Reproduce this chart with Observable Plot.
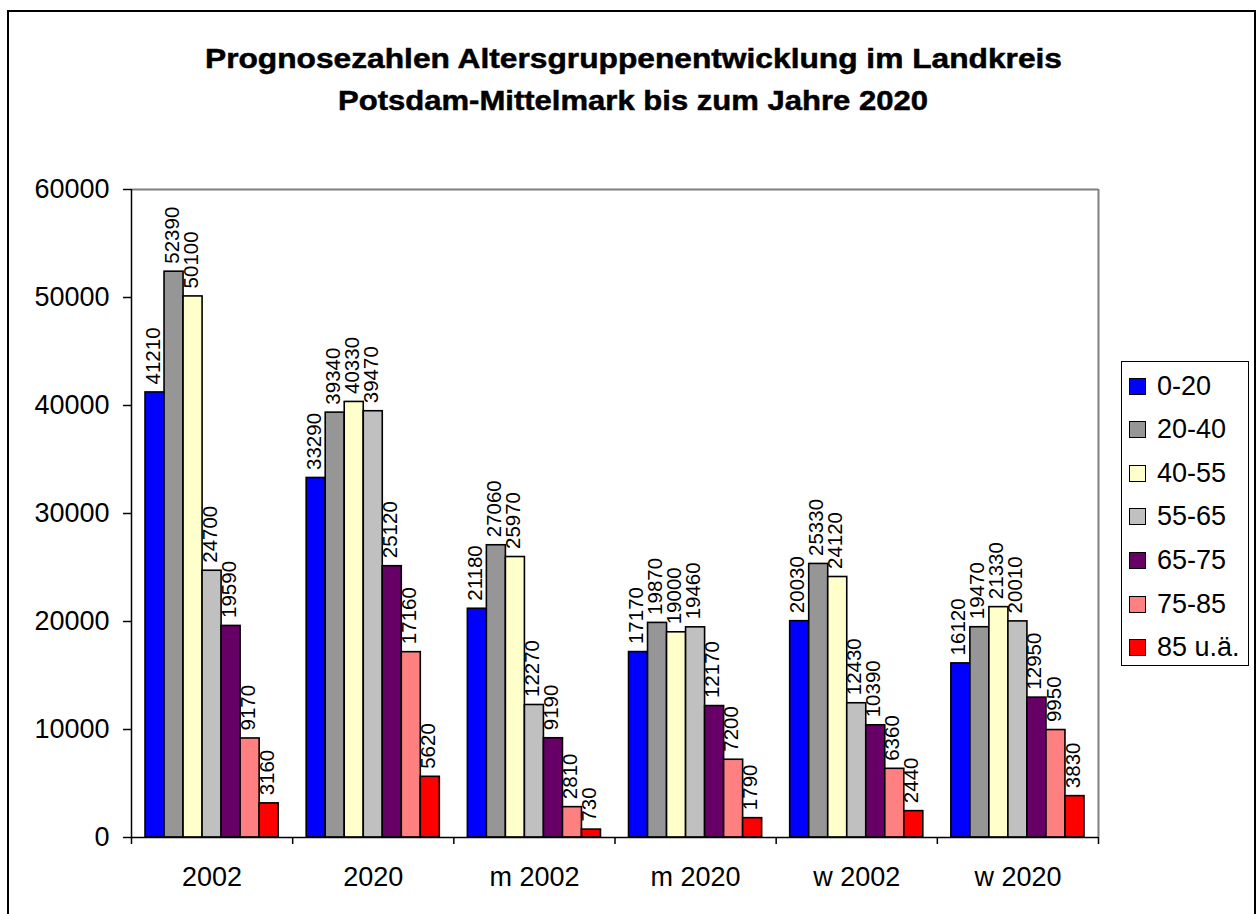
<!DOCTYPE html>
<html>
<head>
<meta charset="utf-8">
<script src="https://cdn.jsdelivr.net/npm/d3@7"></script>
<script src="https://cdn.jsdelivr.net/npm/@observablehq/plot@0.6"></script>
<style>
  html, body { margin: 0; padding: 0; background: #fff; }
  #wrap { position: relative; width: 1258px; height: 914px; overflow: hidden; font-family: "Liberation Sans", Arial, sans-serif; }
  #border { position: absolute; left: 7px; top: 10px; width: 1249px; height: 930px; border: 2px solid #000; box-sizing: border-box; }
  #title { position: absolute; left: 0; top: 0; }
  #chart { position: absolute; left: 0; top: 0; }
  #legend { position: absolute; left: 1121px; top: 361px; width: 128px; height: 305px; border: 1.5px solid #000; box-sizing: border-box; background: #fff; }
  .item { position: absolute; left: 7px; height: 30px; display: flex; align-items: center; font-size: 27px; color: #000; white-space: nowrap; }
  .sw { width: 17px; height: 17px; border: 1.5px solid #000; box-sizing: border-box; margin-right: 11px; }
</style>
</head>
<body>
<div id="wrap">
  <div id="border"></div>
  <svg id="title" width="1258" height="140" xmlns="http://www.w3.org/2000/svg">
    <g font-family="Liberation Sans, Arial, sans-serif" font-weight="bold" font-size="28" fill="#000" stroke="#000" stroke-width="0.5">
      <text x="633.5" y="68" text-anchor="middle" textLength="857" lengthAdjust="spacingAndGlyphs">Prognosezahlen Altersgruppenentwicklung im Landkreis</text>
      <text x="633" y="110" text-anchor="middle" textLength="590" lengthAdjust="spacingAndGlyphs">Potsdam-Mittelmark bis zum Jahre 2020</text>
    </g>
  </svg>
  <div id="chart"></div>
  <div id="legend"></div>
</div>
<script>
// ---- data ----
const groups = ["2002", "2020", "m 2002", "m 2020", "w 2002", "w 2020"];
const series = ["0-20", "20-40", "40-55", "55-65", "65-75", "75-85", "85 u.ä."];
const colors = ["#0000FF", "#969696", "#FFFFCC", "#C0C0C0", "#660066", "#FF8080", "#FF0000"];
const v0_20   = [41210, 33290, 21180, 17170, 20030, 16120];
const v20_40  = [52390, 39340, 27060, 19870, 25330, 19470];
const v40_55  = [50100, 40330, 25970, 19000, 24120, 21330];
const v55_65  = [24700, 39470, 12270, 19460, 12430, 20010];
const v65_75  = [19590, 25120,  9190, 12170, 10390, 12950];
const v75_85  = [ 9170, 17160,  2810,  7200,  6360,  9950];
const v85     = [ 3160,  5620,   730,  1790,  2440,  3830];
const yTicks = [0, 10000, 20000, 30000, 40000, 50000, 60000];

const seriesValues = [v0_20, v20_40, v40_55, v55_65, v65_75, v75_85, v85];

// table for the library
const rows = [];
groups.forEach((g, gi) => {
  series.forEach((s, si) => {
    rows.push({group: g, gi, series: s, si, value: seriesValues[si][gi]});
  });
});

// layout of a group: bars fill 82.6% of the category, touching each other
const fill = 0.826;
const bw = fill / series.length;
const pad = (1 - fill) / 2;
const x1 = d => d.gi + pad + d.si * bw;
const x2 = d => d.gi + pad + (d.si + 1) * bw;
const xc = d => d.gi + pad + (d.si + 0.5) * bw;

const font = "Liberation Sans, Arial, sans-serif";

const chart = Plot.plot({
  width: 1258,
  height: 914,
  marginLeft: 131,
  marginRight: 160,
  marginTop: 189,
  marginBottom: 77,
  style: {fontFamily: font, fontSize: "27px", background: "transparent", color: "#000"},
  x: {domain: [0, groups.length], axis: null},
  y: {domain: [0, 60000], axis: null},
  color: {domain: series, range: colors},
  marks: [
    Plot.ruleY([60000], {stroke: "#808080", strokeWidth: 2}),
    Plot.ruleX([groups.length], {stroke: "#808080", strokeWidth: 2}),
    Plot.rectY(rows, {
      x1, x2, y1: 0, y2: "value",
      fill: d => d.series,
      stroke: "#000", strokeWidth: 1.6
    }),
    Plot.text(rows, {
      x: xc, y: "value", text: d => String(d.value),
      rotate: -90, textAnchor: "start", lineAnchor: "middle",
      dy: -8, dx: -2, fontSize: 20.5, fill: "#000"
    }),
    Plot.ruleX([0], {stroke: "#000", strokeWidth: 1.5}),
    Plot.ruleY([0], {stroke: "#000", strokeWidth: 1.5}),
    Plot.axisY({
      ticks: yTicks, tickSize: 8, tickPadding: 14, label: null,
      tickFormat: d => String(d), fontSize: 27, stroke: "#000", strokeWidth: 1.5, fill: "#000"
    }),
    Plot.axisX({
      ticks: d3.range(0, groups.length + 1), tickSize: 7, label: null,
      tickFormat: () => "", stroke: "#000", strokeWidth: 1.5
    }),
    Plot.axisX({
      ticks: groups.map((g, i) => i + 0.5), tickSize: 0, tickPadding: 29, label: null,
      tickFormat: t => groups[Math.floor(t)], fontSize: 27, fill: "#000"
    })
  ]
});
document.getElementById("chart").appendChild(chart);

// legend
const legend = document.getElementById("legend");
series.forEach((s, i) => {
  const item = document.createElement("div");
  item.className = "item";
  item.style.top = (9 + i * 43.6) + "px";
  const sw = document.createElement("div");
  sw.className = "sw";
  sw.style.background = colors[i];
  const label = document.createElement("span");
  label.textContent = s;
  item.appendChild(sw);
  item.appendChild(label);
  legend.appendChild(item);
});
</script>
</body>
</html>
